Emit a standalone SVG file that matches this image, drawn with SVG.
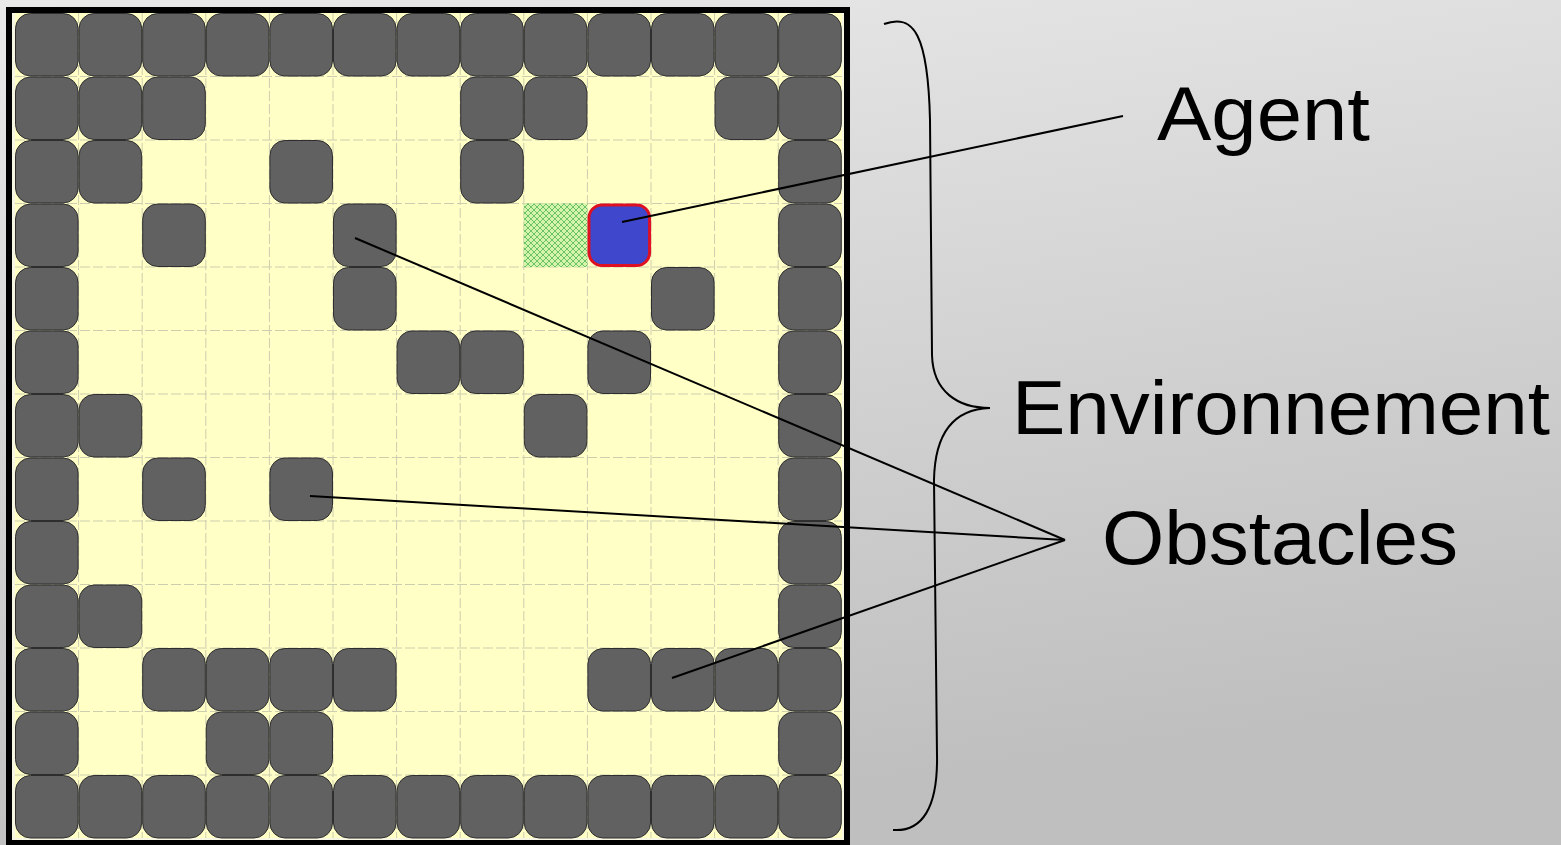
<svg xmlns="http://www.w3.org/2000/svg" xmlns:xlink="http://www.w3.org/1999/xlink" width="1561" height="845" viewBox="0 0 1561 845">
<style>
.lbl{font-family:"Liberation Sans","DejaVu Sans",sans-serif;font-size:76px;fill:#000}
.conn{stroke:#000;stroke-width:2;fill:none}
.grid{stroke:#cdcdb0;stroke-width:1;stroke-dasharray:10 3;fill:none}
</style>
<defs>
<linearGradient id="bg" x1="0" y1="0" x2="0.25" y2="1">
<stop offset="0" stop-color="#e9e9e9"/>
<stop offset="1" stop-color="#bfbfbf"/>
</linearGradient>
<pattern id="hatch" width="6" height="6" patternUnits="userSpaceOnUse">
<rect width="6" height="6" fill="#d4f5a8"/>
<path d="M0,0 L6,6 M6,0 L0,6" stroke="#6cc26c" stroke-width="1"/>
</pattern>
<rect id="ob" x="0.5" y="0.5" width="62.6" height="62.5" rx="15" fill="#616161" stroke="#2e2e2e" stroke-width="1"/>
</defs>
<rect width="1561" height="845" fill="url(#bg)"/>
<g id="environment-frame">
<rect x="9" y="10" width="838" height="833" fill="#f6f6e2" stroke="#000" stroke-width="6"/>
<rect x="15" y="13" width="827" height="825" fill="#ffffc6"/>
<path class="grid" d="M78.6,13V838M142.2,13V838M205.8,13V838M269.4,13V838M333,13V838M396.6,13V838M460.2,13V838M523.8,13V838M587.4,13V838M651,13V838M714.6,13V838M778.2,13V838M15,76.5H842M15,140H842M15,203.5H842M15,267H842M15,330.5H842M15,394H842M15,457.5H842M15,521H842M15,584.5H842M15,648H842M15,711.5H842M15,775H842"/>
</g>
<g id="target">
<rect x="523.8" y="203.5" width="63.6" height="63.5" fill="url(#hatch)"/>
</g>
<g id="obstacles">
<use xlink:href="#ob" x="15" y="13"/><use xlink:href="#ob" x="78.6" y="13"/><use xlink:href="#ob" x="142.2" y="13"/><use xlink:href="#ob" x="205.8" y="13"/><use xlink:href="#ob" x="269.4" y="13"/><use xlink:href="#ob" x="333" y="13"/><use xlink:href="#ob" x="396.6" y="13"/><use xlink:href="#ob" x="460.2" y="13"/><use xlink:href="#ob" x="523.8" y="13"/><use xlink:href="#ob" x="587.4" y="13"/><use xlink:href="#ob" x="651" y="13"/><use xlink:href="#ob" x="714.6" y="13"/><use xlink:href="#ob" x="778.2" y="13"/>
<use xlink:href="#ob" x="15" y="76.5"/><use xlink:href="#ob" x="78.6" y="76.5"/><use xlink:href="#ob" x="142.2" y="76.5"/><use xlink:href="#ob" x="460.2" y="76.5"/><use xlink:href="#ob" x="523.8" y="76.5"/><use xlink:href="#ob" x="714.6" y="76.5"/><use xlink:href="#ob" x="778.2" y="76.5"/>
<use xlink:href="#ob" x="15" y="140"/><use xlink:href="#ob" x="78.6" y="140"/><use xlink:href="#ob" x="269.4" y="140"/><use xlink:href="#ob" x="460.2" y="140"/><use xlink:href="#ob" x="778.2" y="140"/>
<use xlink:href="#ob" x="15" y="203.5"/><use xlink:href="#ob" x="142.2" y="203.5"/><use xlink:href="#ob" x="333" y="203.5"/><use xlink:href="#ob" x="778.2" y="203.5"/>
<use xlink:href="#ob" x="15" y="267"/><use xlink:href="#ob" x="333" y="267"/><use xlink:href="#ob" x="651" y="267"/><use xlink:href="#ob" x="778.2" y="267"/>
<use xlink:href="#ob" x="15" y="330.5"/><use xlink:href="#ob" x="396.6" y="330.5"/><use xlink:href="#ob" x="460.2" y="330.5"/><use xlink:href="#ob" x="587.4" y="330.5"/><use xlink:href="#ob" x="778.2" y="330.5"/>
<use xlink:href="#ob" x="15" y="394"/><use xlink:href="#ob" x="78.6" y="394"/><use xlink:href="#ob" x="523.8" y="394"/><use xlink:href="#ob" x="778.2" y="394"/>
<use xlink:href="#ob" x="15" y="457.5"/><use xlink:href="#ob" x="142.2" y="457.5"/><use xlink:href="#ob" x="269.4" y="457.5"/><use xlink:href="#ob" x="778.2" y="457.5"/>
<use xlink:href="#ob" x="15" y="521"/><use xlink:href="#ob" x="778.2" y="521"/>
<use xlink:href="#ob" x="15" y="584.5"/><use xlink:href="#ob" x="78.6" y="584.5"/><use xlink:href="#ob" x="778.2" y="584.5"/>
<use xlink:href="#ob" x="15" y="648"/><use xlink:href="#ob" x="142.2" y="648"/><use xlink:href="#ob" x="205.8" y="648"/><use xlink:href="#ob" x="269.4" y="648"/><use xlink:href="#ob" x="333" y="648"/><use xlink:href="#ob" x="587.4" y="648"/><use xlink:href="#ob" x="651" y="648"/><use xlink:href="#ob" x="714.6" y="648"/><use xlink:href="#ob" x="778.2" y="648"/>
<use xlink:href="#ob" x="15" y="711.5"/><use xlink:href="#ob" x="205.8" y="711.5"/><use xlink:href="#ob" x="269.4" y="711.5"/><use xlink:href="#ob" x="778.2" y="711.5"/>
<use xlink:href="#ob" x="15" y="775"/><use xlink:href="#ob" x="78.6" y="775"/><use xlink:href="#ob" x="142.2" y="775"/><use xlink:href="#ob" x="205.8" y="775"/><use xlink:href="#ob" x="269.4" y="775"/><use xlink:href="#ob" x="333" y="775"/><use xlink:href="#ob" x="396.6" y="775"/><use xlink:href="#ob" x="460.2" y="775"/><use xlink:href="#ob" x="523.8" y="775"/><use xlink:href="#ob" x="587.4" y="775"/><use xlink:href="#ob" x="651" y="775"/><use xlink:href="#ob" x="714.6" y="775"/><use xlink:href="#ob" x="778.2" y="775"/>
</g>
<g id="agent">
<rect x="589" y="205" width="60.6" height="60.5" rx="13" fill="#3f47cc" stroke="#dd1122" stroke-width="3"/>
</g>
<g id="connectors">
<line class="conn" x1="622" y1="222" x2="1123" y2="116"/>
<line class="conn" x1="355" y1="238" x2="1065" y2="540"/>
<line class="conn" x1="310" y1="496" x2="1065" y2="540"/>
<line class="conn" x1="672" y1="678" x2="1065" y2="540"/>
<path class="conn" d="M884,24 C914,13 928,35 930,120 L932,355 C933,392 958,408 990,408 C958,409 935,428 934,480 L937,755 C938,808 922,832 893,830"/>
</g>
<g id="label-agent"><text class="lbl" x="1157" y="140" textLength="213" lengthAdjust="spacingAndGlyphs">Agent</text></g>
<g id="label-environnement"><text class="lbl" x="1012" y="434" textLength="538" lengthAdjust="spacingAndGlyphs">Environnement</text></g>
<g id="label-obstacles"><text class="lbl" x="1102" y="564" textLength="356" lengthAdjust="spacingAndGlyphs">Obstacles</text></g>
</svg>
